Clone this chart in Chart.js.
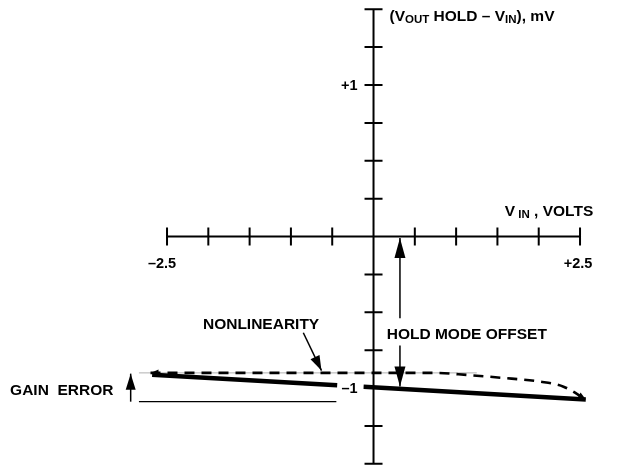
<!DOCTYPE html>
<html>
<head>
<meta charset="utf-8">
<script src="https://cdn.jsdelivr.net/npm/chart.js@4.4.1/dist/chart.umd.min.js"></script>
<style>
  html, body { margin: 0; padding: 0; background: #fff; }
</style>
</head>
<body>
<canvas id="myChart" width="630" height="465"></canvas>
<script>
  // axis ticks (V_IN in volts, output error in mV)
  const xTicks = [-2.5, -2, -1.5, -1, -0.5, 0, 0.5, 1, 1.5, 2, 2.5]
  const yTicks = [-1.5, -1.25, -1, -0.75, -0.5, -0.25, 0.25, 0.5, 0.75, 1, 1.25, 1.5]
  const xTickLabels = ['–2.5', '+2.5']
  const xTickLabelValues = [-2.5, 2.5]
  const yTickLabels = ['+1', '–1']
  const yTickLabelValues = [1, -1]

  // transfer error
  const errorLeftX = [-2.68, -0.44]
  const errorLeftY = [-0.912, -0.981]
  const errorRightX = [-0.12, 2.57]
  const errorRightY = [-0.991, -1.075]
  const nonlinX = [-2.70, 0.73, 1.14, 1.54, 2.02, 2.30, 2.57]
  const nonlinY = [-0.900, -0.900, -0.914, -0.932, -0.958, -0.991, -1.075]

  // reference lines and arrows for the annotations
  const refTopX = [-2.84, 1.25]
  const refTopY = [-0.900, -0.900]
  const refBottomX = [-2.84, -0.45]
  const refBottomY = [-1.09, -1.09]
  const gainArrowX = [-2.94, -2.94]
  const gainArrowY = [-1.09, -0.905]
  const offsetUpX = [0.32, 0.32]
  const offsetUpY = [-0.54, -0.01]
  const offsetDownX = [0.32, 0.32]
  const offsetDownY = [-0.72, -0.99]
  const nonlinArrowX = [-0.85, -0.63]
  const nonlinArrowY = [-0.635, -0.885]

  const FONT = '"Liberation Sans", Arial, sans-serif'
  const BIG = 15.5
  const SMALL = 11.5

  function pts(xs, ys) {
    return xs.map((x, i) => ({ x: x, y: ys[i] }))
  }

  function line(data, width, opts) {
    return Object.assign({
      data: data,
      borderColor: '#000',
      borderWidth: width,
      pointRadius: 0,
      fill: false,
      tension: 0
    }, opts || {})
  }

  function head(ctx, from, to, len, half) {
    const a = Math.atan2(to.y - from.y, to.x - from.x)
    ctx.beginPath()
    ctx.moveTo(to.x, to.y)
    ctx.lineTo(to.x - len * Math.cos(a) + half * Math.sin(a), to.y - len * Math.sin(a) - half * Math.cos(a))
    ctx.lineTo(to.x - len * Math.cos(a) - half * Math.sin(a), to.y - len * Math.sin(a) + half * Math.cos(a))
    ctx.closePath()
    ctx.fill()
  }

  // text made of runs, some of them subscripts
  function runs(ctx, parts, x, y, align) {
    let w = 0
    parts.forEach(p => {
      ctx.font = 'bold ' + (p.sub ? SMALL : BIG) + 'px ' + FONT
      w += ctx.measureText(p.t).width
    })
    let cx = align === 'right' ? x - w : x
    parts.forEach(p => {
      ctx.font = 'bold ' + (p.sub ? SMALL : BIG) + 'px ' + FONT
      ctx.textAlign = 'left'
      ctx.fillText(p.t, cx, y + (p.sub ? 3.5 : 0))
      cx += ctx.measureText(p.t).width
    })
  }

  const axesPlugin = {
    id: 'crossAxes',
    beforeDatasetsDraw(chart) {
      const ctx = chart.ctx
      const xs = chart.scales.x
      const ys = chart.scales.y
      const x0 = xs.getPixelForValue(0)
      const y0 = ys.getPixelForValue(0)
      ctx.save()
      ctx.strokeStyle = '#000'
      ctx.lineWidth = 2
      ctx.beginPath()
      ctx.moveTo(xs.getPixelForValue(-2.5), y0)
      ctx.lineTo(xs.getPixelForValue(2.5), y0)
      ctx.moveTo(x0, ys.getPixelForValue(1.5))
      ctx.lineTo(x0, ys.getPixelForValue(-1.5))
      xTicks.forEach(v => {
        const px = xs.getPixelForValue(v)
        ctx.moveTo(px, y0 - 9)
        ctx.lineTo(px, y0 + 9)
      })
      yTicks.forEach(v => {
        const py = ys.getPixelForValue(v)
        ctx.moveTo(x0 - 9, py)
        ctx.lineTo(x0 + 9, py)
      })
      ctx.stroke()
      ctx.restore()
    },
    afterDatasetsDraw(chart) {
      const ctx = chart.ctx
      const xs = chart.scales.x
      const ys = chart.scales.y
      const x0 = xs.getPixelForValue(0)
      const y0 = ys.getPixelForValue(0)
      ctx.save()
      ctx.fillStyle = '#000'

      // arrow heads at the ends of the flagged datasets
      chart.data.datasets.forEach((ds, i) => {
        if (!ds.arrow) return
        const el = chart.getDatasetMeta(i).data
        const n = el.length
        if (ds.arrow === 'end' || ds.arrow === 'both') head(ctx, el[n - 2], el[n - 1], ds.headLen, ds.headHalf)
        if (ds.arrow === 'start' || ds.arrow === 'both') head(ctx, el[1], el[0], ds.headLen, ds.headHalf)
      })

      ctx.textBaseline = 'middle'
      ctx.font = 'bold 14.5px ' + FONT
      ctx.textAlign = 'center'
      xTickLabelValues.forEach((v, i) => {
        ctx.fillText(xTickLabels[i], xs.getPixelForValue(v) - (v < 0 ? 5 : 2), y0 + 27)
      })
      ctx.textAlign = 'right'
      yTickLabelValues.forEach((v, i) => {
        ctx.fillText(yTickLabels[i], x0 - 16, ys.getPixelForValue(v) + 1)
      })

      ctx.font = 'bold ' + BIG + 'px ' + FONT
      ctx.textAlign = 'left'
      ctx.fillText('NONLINEARITY', xs.getPixelForValue(-2.065), ys.getPixelForValue(-0.58))
      ctx.fillText('HOLD MODE OFFSET', xs.getPixelForValue(0.16), ys.getPixelForValue(-0.65))
      ctx.fillText('GAIN  ERROR', xs.getPixelForValue(-4.40), ys.getPixelForValue(-1.015))

      runs(ctx, [{ t: '(V' }, { t: 'OUT', sub: true }, { t: ' HOLD – V' }, { t: 'IN', sub: true }, { t: '), mV' }],
        x0 + 16, ys.getPixelForValue(1.45), 'left')
      runs(ctx, [{ t: 'V' }, { t: ' IN', sub: true }, { t: ' , VOLTS' }],
        xs.getPixelForValue(2.66), y0 - 25, 'right')
      ctx.restore()
    }
  }

  // Chart.js paints the first dataset on top, so the dashed curve comes before the thin reference line
  const ctx = document.getElementById('myChart')
  const myChart = new Chart(ctx, {
    type: 'scatter',
    data: {
      datasets: [
        line(pts(nonlinX, nonlinY), 2.6, { borderDash: [10, 7], cubicInterpolationMode: 'monotone', arrow: 'both', headLen: 8, headHalf: 3.5 }),
        line(pts(errorLeftX, errorLeftY), 4.5),
        line(pts(errorRightX, errorRightY), 4.5),
        line(pts(refBottomX, refBottomY), 1.3),
        line(pts(gainArrowX, gainArrowY), 1.5, { arrow: 'end', headLen: 16, headHalf: 5 }),
        line(pts(offsetUpX, offsetUpY), 1.5, { arrow: 'end', headLen: 20, headHalf: 5.5 }),
        line(pts(offsetDownX, offsetDownY), 1.5, { arrow: 'end', headLen: 20, headHalf: 5.5 }),
        line(pts(nonlinArrowX, nonlinArrowY), 1.5, { arrow: 'end', headLen: 15, headHalf: 5 }),
        line(pts(refTopX, refTopY), 1, { borderColor: '#b0b0b0' })
      ]
    },
    options: {
      responsive: false,
      animation: false,
      showLine: true,
      layout: { padding: 0 },
      scales: {
        x: { type: 'linear', min: -4.522, max: 3.105, display: false },
        y: { type: 'linear', min: -1.508, max: 1.561, display: false }
      },
      plugins: {
        legend: { display: false },
        tooltip: { enabled: false }
      }
    },
    plugins: [axesPlugin]
  })
</script>
</body>
</html>
